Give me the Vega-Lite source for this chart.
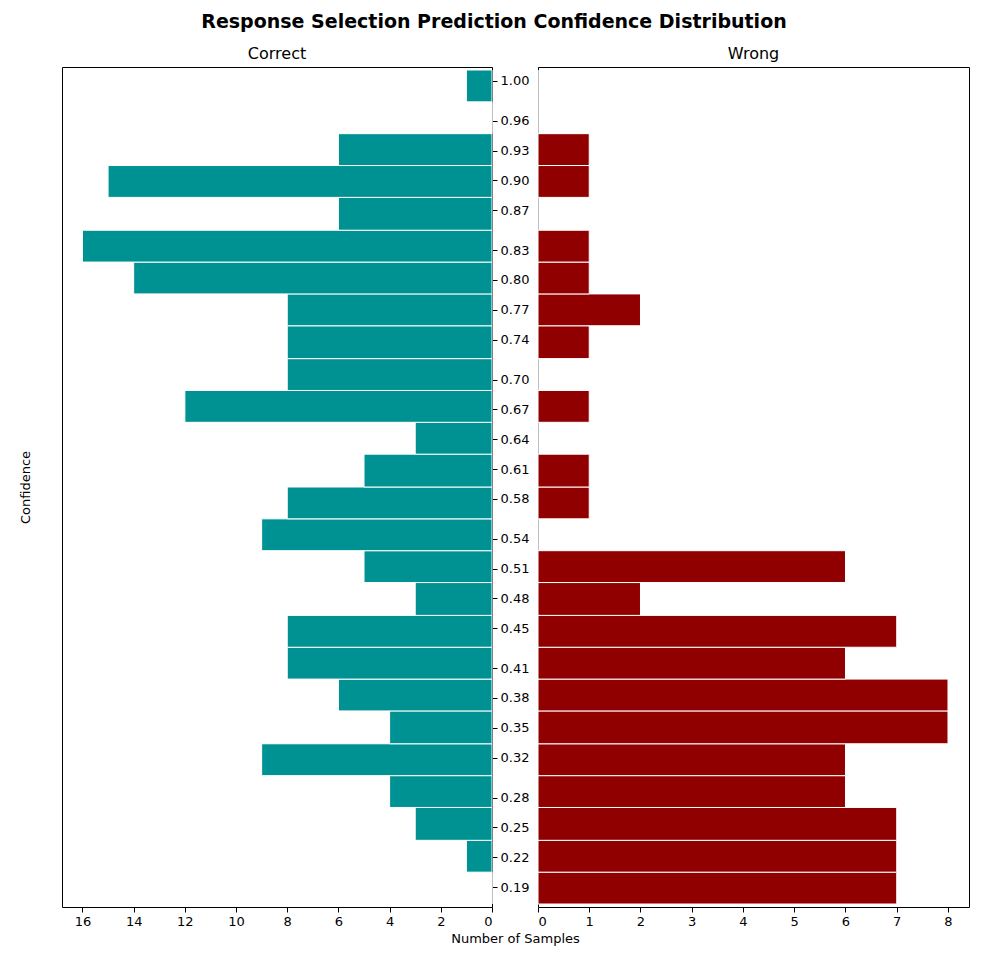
{
  "$schema": "https://vega.github.io/schema/vega-lite/v6.json",
  "title": {"text": "Response Selection Prediction Confidence Distribution", "fontSize": 19, "fontWeight": "bold", "font": "DejaVu Sans", "color": "black", "anchor": "middle", "offset": 14},
  "padding": {"left": 18, "top": 12, "right": 5, "bottom": 5},
  "data": {"values": [
    {"lo": 0.173, "hi": 0.205, "correct": 0, "wrong": 7},
    {"lo": 0.205, "hi": 0.237, "correct": 1, "wrong": 7},
    {"lo": 0.237, "hi": 0.270, "correct": 3, "wrong": 7},
    {"lo": 0.270, "hi": 0.302, "correct": 4, "wrong": 6},
    {"lo": 0.302, "hi": 0.334, "correct": 9, "wrong": 6},
    {"lo": 0.334, "hi": 0.367, "correct": 4, "wrong": 8},
    {"lo": 0.367, "hi": 0.399, "correct": 6, "wrong": 8},
    {"lo": 0.399, "hi": 0.431, "correct": 8, "wrong": 6},
    {"lo": 0.431, "hi": 0.463, "correct": 8, "wrong": 7},
    {"lo": 0.463, "hi": 0.496, "correct": 3, "wrong": 2},
    {"lo": 0.496, "hi": 0.528, "correct": 5, "wrong": 6},
    {"lo": 0.528, "hi": 0.560, "correct": 9, "wrong": 0},
    {"lo": 0.560, "hi": 0.592, "correct": 8, "wrong": 1},
    {"lo": 0.592, "hi": 0.625, "correct": 5, "wrong": 1},
    {"lo": 0.625, "hi": 0.657, "correct": 3, "wrong": 0},
    {"lo": 0.657, "hi": 0.689, "correct": 12, "wrong": 1},
    {"lo": 0.689, "hi": 0.721, "correct": 8, "wrong": 0},
    {"lo": 0.721, "hi": 0.754, "correct": 8, "wrong": 1},
    {"lo": 0.754, "hi": 0.786, "correct": 8, "wrong": 2},
    {"lo": 0.786, "hi": 0.818, "correct": 14, "wrong": 1},
    {"lo": 0.818, "hi": 0.850, "correct": 16, "wrong": 1},
    {"lo": 0.850, "hi": 0.883, "correct": 6, "wrong": 0},
    {"lo": 0.883, "hi": 0.915, "correct": 15, "wrong": 1},
    {"lo": 0.915, "hi": 0.947, "correct": 6, "wrong": 1},
    {"lo": 0.947, "hi": 0.979, "correct": 0, "wrong": 0},
    {"lo": 0.979, "hi": 1.011, "correct": 1, "wrong": 0}
  ]},
  "spacing": 46,
  "bounds": "flush",
  "hconcat": [
    {
      "width": 430,
      "height": 840,
      "title": {"text": "Correct", "fontSize": 16, "fontWeight": "normal", "offset": 5},
      "layer": [
        {
          "mark": {"type": "bar", "color": "#009292", "stroke": "white", "strokeWidth": 1},
          "encoding": {
            "x": {"field": "correct", "type": "quantitative", "scale": {"domain": [0, 16.8], "reverse": true, "nice": false},
              "axis": {"values": [0, 2, 4, 6, 8, 10, 12, 14, 16], "title": "Number of Samples", "titleX": 453, "titleAlign": "center", "titleAnchor": null}},
            "x2": {"datum": 0},
            "y": {"field": "lo", "type": "quantitative", "scale": {"domain": [0.170, 1.014], "nice": false, "zero": false},
              "axis": {"orient": "right", "title": null, "format": ".2f", "values": [0.19, 0.22, 0.25, 0.28, 0.32, 0.35, 0.38, 0.41, 0.45, 0.48, 0.51, 0.54, 0.58, 0.61, 0.64, 0.67, 0.70, 0.74, 0.77, 0.80, 0.83, 0.87, 0.90, 0.93, 0.96, 1.00]}},
            "y2": {"field": "hi"}
          }
        },
        {
          "mark": {"type": "tick", "opacity": 0},
          "encoding": {
            "y": {"field": "lo", "type": "quantitative",
              "axis": {"orient": "left", "title": "Confidence", "labels": false, "ticks": false, "domain": false, "titlePadding": 30}}
          }
        }
      ],
      "resolve": {"axis": {"y": "independent"}}
    },
    {
      "width": 431,
      "height": 840,
      "title": {"text": "Wrong", "fontSize": 16, "fontWeight": "normal", "offset": 5},
      "mark": {"type": "bar", "color": "#900000", "stroke": "white", "strokeWidth": 1},
      "encoding": {
        "x": {"field": "wrong", "type": "quantitative", "scale": {"domain": [0, 8.41], "nice": false},
          "axis": {"values": [0, 1, 2, 3, 4, 5, 6, 7, 8], "title": null}},
        "x2": {"datum": 0},
        "y": {"field": "lo", "type": "quantitative", "scale": {"domain": [0.170, 1.014], "nice": false, "zero": false}, "axis": null},
        "y2": {"field": "hi"}
      }
    }
  ],
  "config": {
    "font": "DejaVu Sans",
    "view": {"stroke": "black", "strokeWidth": 1},
    "axis": {"grid": false, "labelFontSize": 13, "titleFontSize": 13, "titleFontWeight": "normal", "labelColor": "black", "titleColor": "black", "domain": false, "tickColor": "black", "tickSize": 5, "labelPadding": 3},
    "title": {"color": "black", "font": "DejaVu Sans"}
  }
}
